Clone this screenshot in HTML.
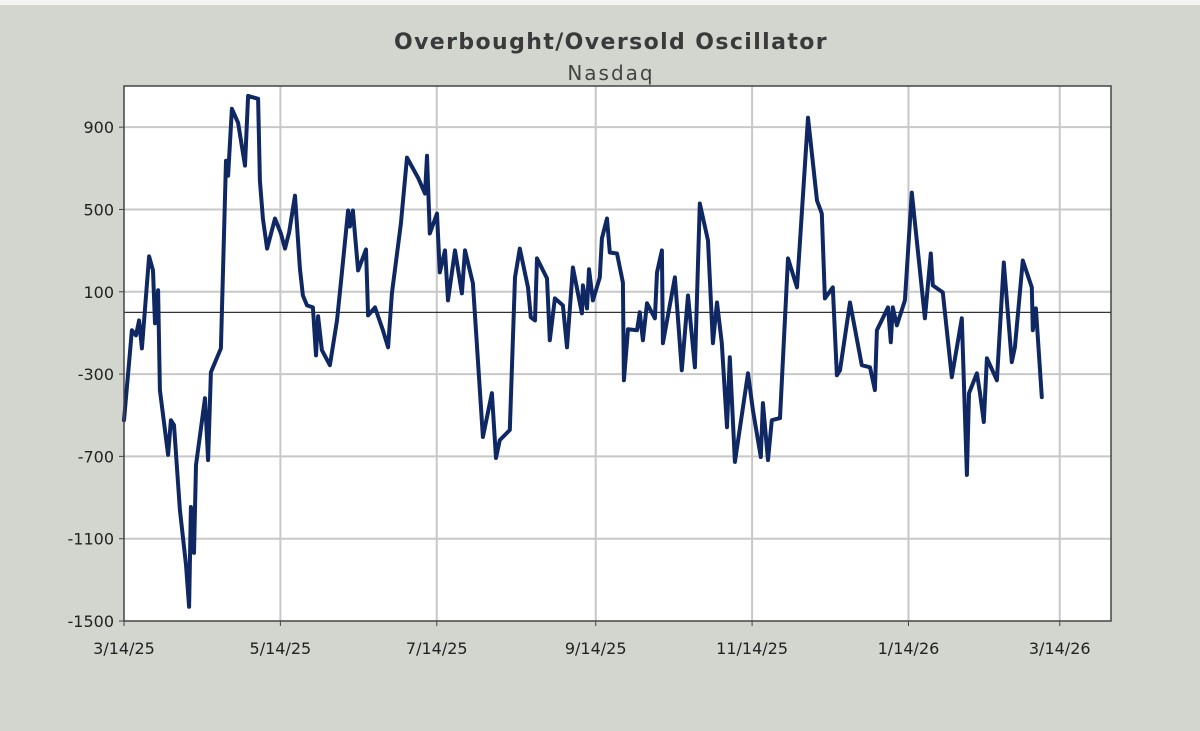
<!DOCTYPE html>
<html><head><meta charset="utf-8"><style>
html,body{margin:0;padding:0;}
body{width:1200px;height:731px;background:#d2d6cf;overflow:hidden;font-family:"DejaVu Sans",sans-serif;}
</style></head><body>
<svg id="chart" width="1200" height="731" xmlns="http://www.w3.org/2000/svg" style="display:block">
<rect x="0" y="0" width="1200" height="5" fill="#f4f4f4"/>
<text x="611" y="49" text-anchor="middle" font-family="DejaVu Sans, sans-serif" font-weight="bold" font-size="22" letter-spacing="1.4" fill="#3a3a3a">Overbought/Oversold Oscillator</text>
<text x="611" y="80" text-anchor="middle" font-family="DejaVu Sans, sans-serif" font-size="20" letter-spacing="2" fill="#444">Nasdaq</text>
<rect x="124" y="86" width="987" height="535" fill="#fff"/>
<g id="grid"></g>
<g id="series"></g>
<rect x="124" y="86" width="987" height="535" fill="none" stroke="#444" stroke-width="1.5"/>
<g id="axes"></g>
</svg>
<script>
const dayOffsets=[0,3.1,4.7,5.9,7.0,9.8,11.3,12.1,13.3,14.0,17.2,18.3,19.5,21.8,24.2,25.4,26.1,27.3,28.1,31.6,32.8,33.9,37.8,39.8,40.6,42.1,44.5,47.2,48.4,52.3,53.0,54.2,55.8,58.9,61.2,62.8,64.4,66.7,68.6,69.8,71.4,73.7,74.9,75.7,77.2,80.3,83.1,84.6,87.4,88.1,89.3,91.3,94.4,95.2,97.9,101.0,103.0,104.5,108.0,110.4,114.7,117.4,118.2,119.3,122.1,123.2,125.2,126.4,129.1,131.8,133.0,136.1,140.0,143.5,145.1,146.6,150.5,152.5,154.4,157.6,158.7,160.3,161.1,165.0,166.1,168.1,171.2,172.8,175.1,178.6,179.0,180.6,181.4,182.9,185.6,186.4,188.4,189.5,192.3,194.6,195.0,196.6,200.1,201.2,202.4,204.0,207.1,207.9,209.8,210.2,214.9,217.6,220.0,222.7,224.6,227.8,229.7,231.3,233.2,235.2,236.3,238.3,243.4,245.3,248.4,249.2,251.2,252.7,255.9,259.0,262.5,266.8,270.3,272.2,273.4,276.5,278.1,279.3,283.2,287.8,291.0,292.9,293.7,298.0,299.1,299.9,301.5,304.6,307.3,312.4,314.7,315.5,319.4,322.9,326.8,328.8,329.6,332.7,333.9,335.4,336.6,340.5,343.2,346.3,347.5,350.6,354.1,354.5,355.7,358.0];
const oscValues=[-524,-87,-112,-39,-175,272,204,-53,107,-378,-693,-524,-548,-960,-1227,-1431,-946,-1169,-742,-417,-718,-291,-175,737,664,989,921,713,1052,1038,640,456,310,456,383,310,388,567,213,82,34,24,-209,-19,-184,-257,-39,145,495,417,495,204,306,-15,24,-87,-170,92,432,752,655,577,761,383,480,194,301,58,301,92,301,141,-606,-393,-708,-621,-572,170,310,121,-24,-39,262,165,-136,68,34,-170,218,-5,131,19,209,58,170,359,456,291,286,145,-330,-82,-87,0,-136,44,-29,194,301,-150,170,-281,82,-267,529,349,-150,48,-150,-558,-218,-727,-296,-475,-703,-441,-718,-524,-514,262,121,946,543,480,68,121,-306,-281,48,-257,-267,-378,-87,24,-145,24,-63,58,582,-29,286,131,97,-315,-29,-790,-393,-296,-393,-533,-223,-330,242,-242,-170,252,121,-87,19,-412];
const yTicks=[900,500,100,-300,-700,-1100,-1500];
const xTickDays=[0,61,122,184,245,306,365];
const xTickLabels=["3/14/25","5/14/25","7/14/25","9/14/25","11/14/25","1/14/26","3/14/26"];
const NS="http://www.w3.org/2000/svg";
const X0=124,X1=1111,Y0=86,Y1=621,DMAX=385,VMIN=-1500,VMAX=1100;
function xs(d){return X0+(d/DMAX)*(X1-X0);}
function ys(v){return Y1-(v-VMIN)/(VMAX-VMIN)*(Y1-Y0);}
function mk(tag,attrs,parent){const e=document.createElementNS(NS,tag);for(const k in attrs)e.setAttribute(k,attrs[k]);parent.appendChild(e);return e;}
const grid=document.getElementById('grid'),axes=document.getElementById('axes'),series=document.getElementById('series');
yTicks.forEach(v=>{
  if(v>VMIN){const l=mk('line',{x1:X0,x2:X1,y1:ys(v),y2:ys(v),stroke:'#c8c8c8','stroke-width':2},grid);
  
  }
  const tk=mk('line',{x1:X0-5,x2:X0,y1:ys(v),y2:ys(v),stroke:'#444','stroke-width':1},axes);
  
  
  const t=mk('text',{x:X0-10,y:ys(v)+6,'text-anchor':'end','font-size':16,fill:'#222','font-family':'DejaVu Sans, sans-serif'},axes);
  t.textContent=v;
  
  
});
xTickDays.forEach((d,i)=>{
  if(d>0){const l=mk('line',{x1:xs(d),x2:xs(d),y1:Y0,y2:Y1,stroke:'#c8c8c8','stroke-width':2},grid);
  
  }
  const tk=mk('line',{x1:xs(d),x2:xs(d),y1:Y1,y2:Y1+5,stroke:'#444','stroke-width':1},axes);
  
  
  const t=mk('text',{x:xs(d),y:654,'text-anchor':'middle','font-size':16,fill:'#222','font-family':'DejaVu Sans, sans-serif'},axes);
  t.textContent=xTickLabels[i];
  
  
});
const zl=mk('line',{x1:X0,x2:X1,y1:ys(0),y2:ys(0),stroke:'#333','stroke-width':1.3},series);


const pts=dayOffsets.map((d,i)=>xs(d).toFixed(1)+','+ys(oscValues[i]).toFixed(1)).join(' ');
const pl=mk('polyline',{points:pts,fill:'none',stroke:'#0f2863','stroke-width':4,'stroke-linejoin':'round','stroke-linecap':'round'},series);


</script>
</body></html>
